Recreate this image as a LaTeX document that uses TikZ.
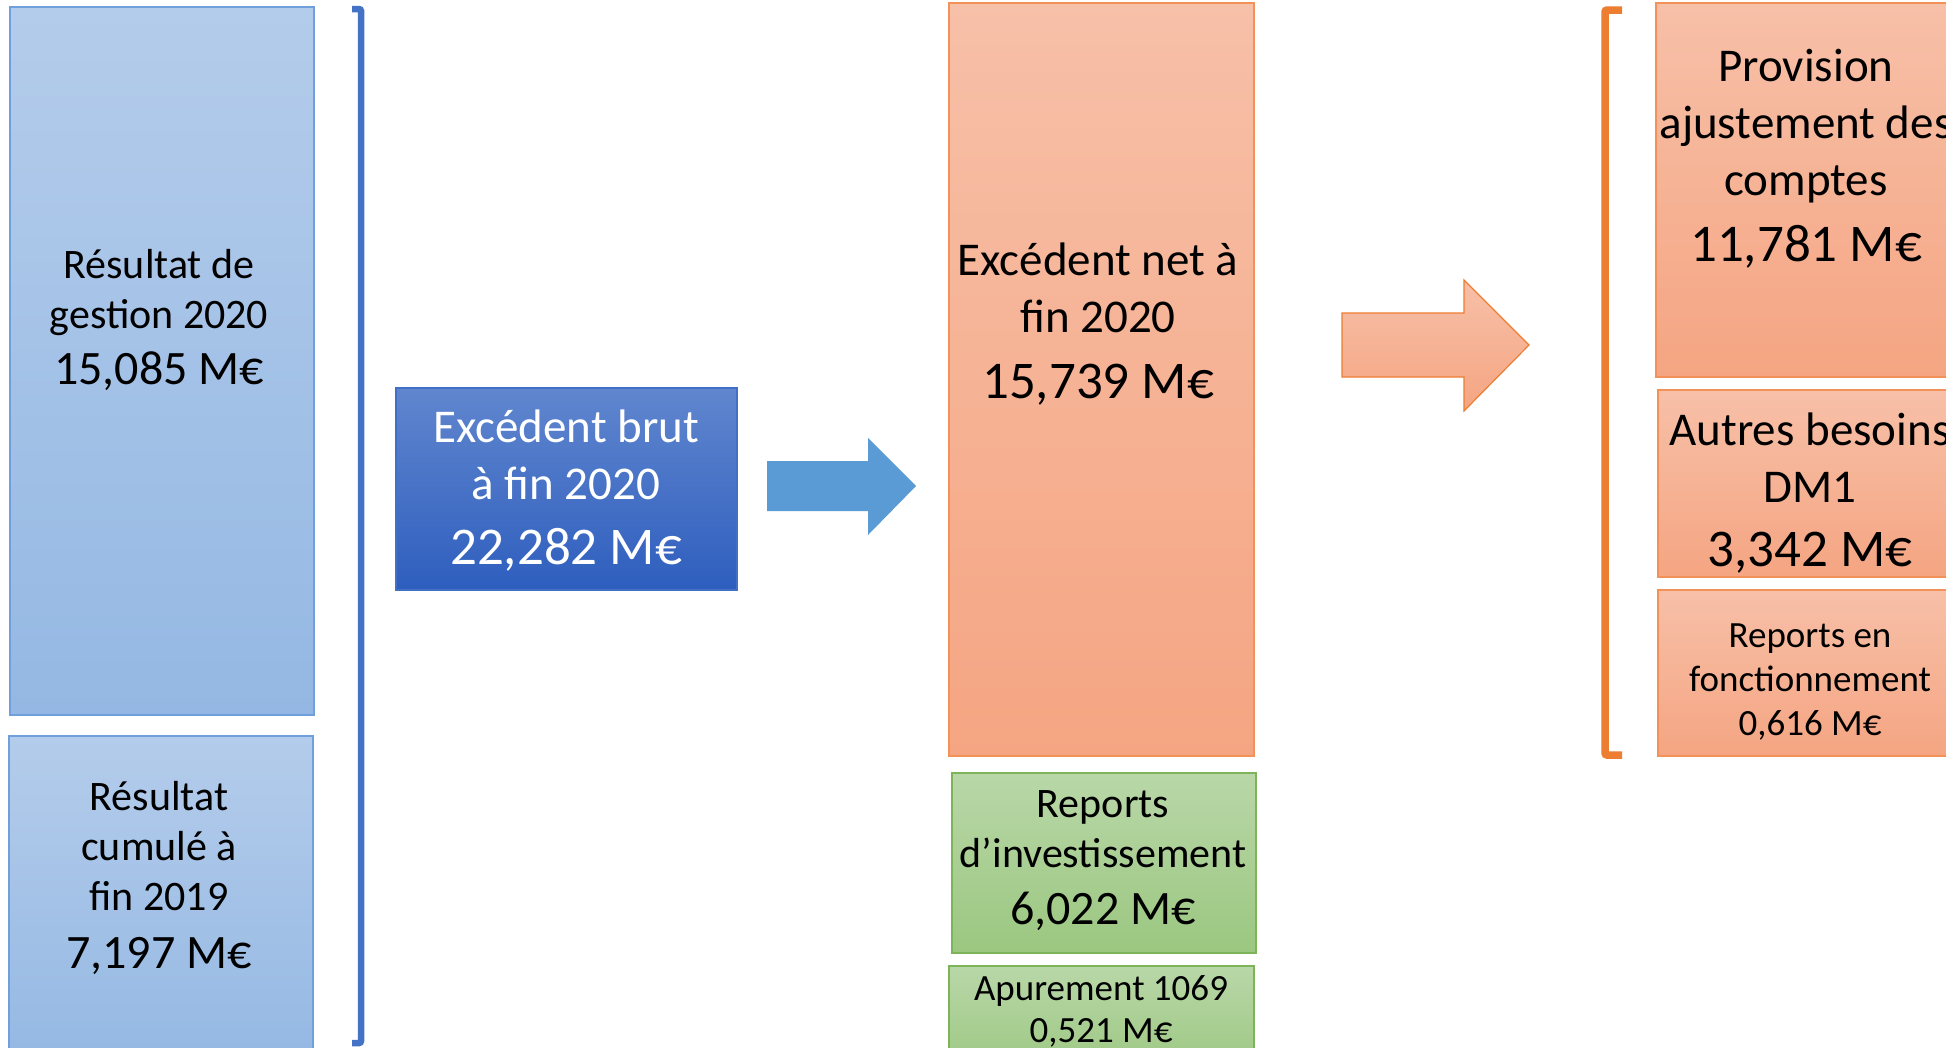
\documentclass[tikz,border=0pt]{standalone}
\usepackage{fontspec}
\setmainfont{Carlito}
\definecolor{bluetop}{RGB}{180,204,235}
\definecolor{bluebot}{RGB}{148,184,227}
\definecolor{blueedge}{RGB}{112,160,220}
\definecolor{darktop}{RGB}{96,134,206}
\definecolor{darkbot}{RGB}{46,94,190}
\definecolor{darkedge}{RGB}{66,112,198}
\definecolor{orgtop}{RGB}{247,192,168}
\definecolor{orgbot}{RGB}{245,165,130}
\definecolor{orgedge}{RGB}{242,145,88}
\definecolor{grntop}{RGB}{185,215,168}
\definecolor{grnbot}{RGB}{155,199,128}
\definecolor{grnedge}{RGB}{125,180,90}
\definecolor{arrowblue}{RGB}{91,155,213}
\definecolor{brblue}{RGB}{68,114,196}
\definecolor{brorange}{RGB}{237,125,49}
\begin{document}
\begin{tikzpicture}[x=1pt,y=-1pt,
  boxbase/.style={rectangle, line width=1.3pt, inner sep=0pt, outer sep=0pt, anchor=north west},
  lightblue/.style={boxbase, draw=blueedge, top color=bluetop, bottom color=bluebot},
  darkblue/.style={boxbase, draw=darkedge, top color=darktop, bottom color=darkbot},
  orangebox/.style={boxbase, draw=orgedge, top color=orgtop, bottom color=orgbot},
  greenbox/.style={boxbase, draw=grnedge, top color=grntop, bottom color=grnbot},
  lbl/.style={align=center, inner sep=0pt, text=black},
  fmid/.style={font=\fontsize{42}{50}\selectfont},
  fbig/.style={font=\fontsize{47}{57}\selectfont},
  fsmall/.style={font=\fontsize{37}{44}\selectfont},
  bracket/.style={line width=6.5pt, rounded corners=2pt}
]
\clip (0,0) rectangle (1946,1047);
\fill[white] (0,0) rectangle (1946,1047);

% left column
\node[lightblue, minimum width=304pt, minimum height=708pt] (b1) at (10,7) {};
\node[lightblue, minimum width=304pt, minimum height=330pt] (b2) at (9,736) {};
\node[lbl, fmid] (t1) at (159,320) {Résultat de\\gestion 2020\\[6pt]{\fontsize{48}{54}\selectfont 15,085 M€}};
\node[lbl, fmid] (t2) at (159,878) {Résultat\\cumulé à\\fin 2019\\[8pt]{\fontsize{48}{54}\selectfont 7,197 M€}};

% blue bracket
\draw[bracket, draw=brblue] (352,9) -- (361,9) -- (361,1043) -- (352,1043);

% gross surplus
\node[darkblue, minimum width=341pt, minimum height=202pt] (brut) at (396,388) {};
\node[lbl, fbig, text=white] (tbrut) at (566,491) {Excédent brut\\à fin 2020\\[8pt]{\fontsize{53}{60}\selectfont 22,282 M€}};

% blue block arrow
\fill[arrowblue] (767,461) -- (868,461) -- (868,438) -- (916,486) -- (868,535) -- (868,511) -- (767,511) -- cycle;

% net surplus column
\node[orangebox, minimum width=305pt, minimum height=753pt] (net) at (949,3) {};
\node[lbl, fbig] (tnet) at (1098,324) {Excédent net à\\fin 2020\\[9pt]{\fontsize{53}{60}\selectfont 15,739 M€}};
\node[greenbox, minimum width=304pt, minimum height=180pt] (g1) at (952,773) {};
\node[lbl, fmid] (tg1) at (1103,861) {Reports\\d’investissement\\[7pt]{\fontsize{48}{54}\selectfont 6,022 M€}};
\node[greenbox, minimum width=305pt, minimum height=110pt] (g2) at (949,966) {};
\node[lbl, fsmall] (tg2) at (1101,1011) {Apurement 1069\\[-2pt]0,521 M€};

% orange block arrow
\shade[top color=orgtop, bottom color=orgbot, draw=brorange, line width=1.2pt]
  (1342,313) -- (1464,313) -- (1464,280) -- (1529,345) -- (1464,411) -- (1464,377) -- (1342,377) -- cycle;

% orange bracket
\draw[bracket, draw=brorange, line width=7.5pt] (1622,10) -- (1605,10) -- (1605,755) -- (1622,755);

% right column
\node[orangebox, minimum width=306pt, minimum height=374pt] (prov) at (1656,3) {};
\node[lbl, fbig] (tprov) at (1806,159) {Provision\\ajustement des\\comptes\\[9pt]{\fontsize{53}{60}\selectfont 11,781 M€}};
\node[orangebox, minimum width=306pt, minimum height=187pt] (autres) at (1658,390) {};
\node[lbl, fbig] (tautres) at (1810,493) {Autres besoins\\DM1\\[7pt]{\fontsize{53}{60}\selectfont 3,342 M€}};
\node[orangebox, minimum width=306pt, minimum height=166pt] (rep) at (1658,590) {};
\node[lbl, fsmall] (trep) at (1810,682) {Reports en\\fonctionnement\\0,616 M€};
\end{tikzpicture}
\end{document}
